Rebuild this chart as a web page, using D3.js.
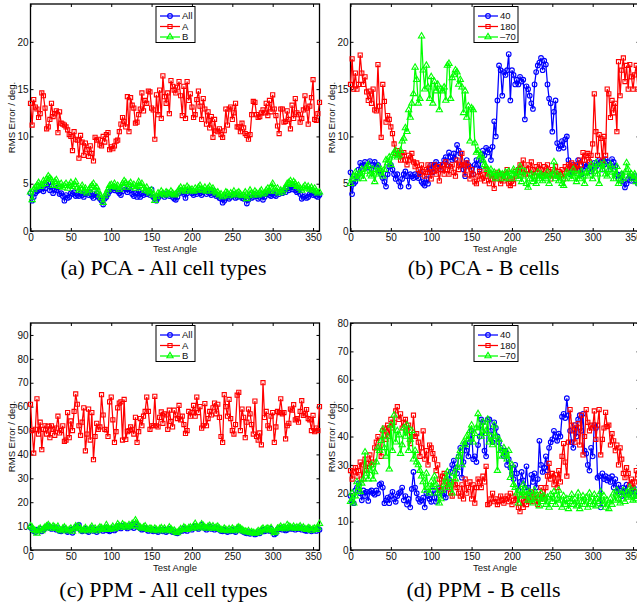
<!DOCTYPE html>
<html>
<head>
<meta charset="utf-8">
<script src="https://cdn.jsdelivr.net/npm/d3@7"></script>
<style>
	body { margin: 0; background: #fff; }
	svg { display: block; }
</style>
</head>
<body>
<div id="figure"></div>
<script>
//Test angles in degrees, one sample every 2 deg.
var testAngle = [0, 2, 4, 6, 8, 10, 12, 14, 16, 18, 20, 22, 24, 26, 28, 30, 32, 34, 36, 38,
	40, 42, 44, 46, 48, 50, 52, 54, 56, 58, 60, 62, 64, 66, 68, 70, 72, 74, 76, 78,
	80, 82, 84, 86, 88, 90, 92, 94, 96, 98, 100, 102, 104, 106, 108, 110, 112, 114, 116, 118,
	120, 122, 124, 126, 128, 130, 132, 134, 136, 138, 140, 142, 144, 146, 148, 150, 152, 154, 156, 158,
	160, 162, 164, 166, 168, 170, 172, 174, 176, 178, 180, 182, 184, 186, 188, 190, 192, 194, 196, 198,
	200, 202, 204, 206, 208, 210, 212, 214, 216, 218, 220, 222, 224, 226, 228, 230, 232, 234, 236, 238,
	240, 242, 244, 246, 248, 250, 252, 254, 256, 258, 260, 262, 264, 266, 268, 270, 272, 274, 276, 278,
	280, 282, 284, 286, 288, 290, 292, 294, 296, 298, 300, 302, 304, 306, 308, 310, 312, 314, 316, 318,
	320, 322, 324, 326, 328, 330, 332, 334, 336, 338, 340, 342, 344, 346, 348, 350, 352, 354, 356, 358];

//(a) PCA - All cell types
var pcaAllAll = [4.0, 3.2, 3.6, 4.0, 4.2, 4.3, 4.4, 4.6, 4.2, 4.5, 4.9, 5.1, 4.3, 4.7, 4.0, 4.4, 4.3, 4.6, 3.9, 4.0,
	3.7, 3.2, 3.8, 3.5, 3.6, 4.0, 3.9, 4.1, 3.7, 3.8, 3.7, 4.0, 3.8, 3.6, 3.9, 4.0, 3.8, 4.1, 3.7, 3.5,
	3.8, 4.0, 3.6, 3.4, 3.2, 2.8, 3.4, 3.6, 3.9, 4.2, 4.4, 4.6, 4.3, 4.5, 4.2, 4.0, 3.8, 4.2, 4.6, 4.4,
	4.1, 4.5, 4.3, 3.9, 3.7, 4.0, 3.6, 4.2, 3.6, 4.0, 3.8, 4.1, 3.9, 4.0, 3.8, 4.4, 3.6, 3.4, 3.2, 3.5,
	3.7, 3.8, 3.9, 3.6, 3.8, 4.0, 3.7, 3.9, 3.6, 3.4, 3.3, 3.6, 4.0, 4.3, 4.1, 3.9, 3.5, 4.0, 4.2, 4.3,
	4.0, 3.8, 4.1, 3.9, 4.2, 4.0, 3.8, 4.1, 4.3, 3.9, 4.2, 4.0, 3.8, 4.3, 3.9, 3.7, 3.8, 3.5, 3.4, 3.0,
	3.2, 3.5, 3.7, 3.4, 3.6, 3.8, 3.9, 3.5, 3.6, 3.8, 3.7, 3.5, 3.4, 3.6, 2.9, 3.3, 3.8, 3.5, 3.6, 3.9,
	3.7, 3.4, 3.6, 3.8, 3.3, 3.6, 3.9, 4.0, 3.8, 3.7, 4.0, 3.8, 3.7, 4.1, 3.9, 4.2, 4.0, 4.3, 4.1, 4.5,
	4.3, 4.6, 4.4, 4.7, 4.3, 4.1, 4.2, 3.9, 3.4, 3.6, 3.7, 3.5, 3.6, 3.9, 4.1, 3.8, 3.9, 3.7, 3.6, 3.8];
var pcaAllA = [13.5, 11.2, 13.9, 13.1, 12.9, 12.0, 12.4, 14.6, 14.3, 13.0, 10.8, 11.0, 11.8, 13.5, 12.1, 12.4, 12.7, 10.4, 12.6, 11.4,
	11.3, 11.2, 11.0, 10.7, 10.2, 10.0, 8.5, 10.5, 9.7, 9.6, 7.7, 10.1, 9.4, 8.0, 9.3, 8.6, 7.9, 9.0, 8.2, 7.4,
	9.9, 9.6, 9.7, 9.1, 9.0, 10.0, 9.4, 10.2, 10.4, 8.6, 8.9, 8.7, 9.0, 9.5, 9.6, 10.5, 11.3, 12.0, 11.6, 11.0,
	14.2, 10.5, 14.1, 13.3, 13.0, 11.4, 11.5, 12.3, 12.9, 14.6, 12.7, 13.8, 13.5, 14.8, 14.7, 13.0, 12.8, 9.7, 14.4, 12.3,
	14.9, 11.9, 16.4, 14.2, 13.5, 14.6, 12.4, 15.9, 15.3, 14.9, 14.6, 15.2, 15.8, 14.3, 12.2, 15.3, 11.9, 15.8, 13.8, 14.5,
	13.1, 12.0, 12.3, 13.9, 14.8, 13.2, 11.8, 14.0, 12.9, 11.3, 12.6, 10.9, 12.1, 9.9, 11.8, 10.6, 10.5, 10.8, 10.2, 9.9,
	10.6, 12.9, 11.2, 12.9, 13.1, 11.8, 12.5, 13.5, 11.0, 11.0, 10.5, 11.4, 10.9, 10.3, 10.1, 9.7, 10.2, 12.3, 13.7, 13.6,
	12.3, 12.0, 12.1, 12.5, 12.8, 12.5, 13.5, 12.2, 13.8, 12.6, 14.4, 12.9, 12.2, 11.1, 10.3, 12.9, 12.9, 11.5, 11.6, 12.7,
	11.8, 10.8, 13.3, 11.9, 14.0, 12.5, 12.3, 11.5, 11.9, 12.8, 14.3, 13.0, 11.3, 13.2, 14.1, 16.0, 11.8, 11.7, 12.4, 13.6];
var pcaAllB = [4.1, 3.3, 4.4, 4.6, 4.8, 5.1, 4.7, 4.9, 5.3, 5.0, 5.5, 5.8, 5.6, 5.4, 4.8, 5.2, 5.4, 4.9, 4.7, 5.0,
	4.6, 4.8, 5.0, 4.5, 4.8, 5.1, 4.7, 4.9, 5.2, 4.6, 4.3, 4.5, 4.8, 4.2, 4.5, 4.0, 4.3, 4.6, 4.8, 5.0,
	4.4, 4.6, 4.2, 3.8, 3.5, 3.0, 3.7, 4.0, 4.4, 4.8, 4.9, 4.7, 5.0, 4.6, 4.8, 4.4, 4.6, 5.0, 5.3, 5.1,
	4.6, 4.9, 5.1, 4.7, 4.9, 4.5, 4.7, 5.2, 4.8, 5.0, 4.5, 4.3, 4.6, 4.2, 4.0, 4.3, 3.8, 3.2, 3.6, 4.0,
	3.9, 4.2, 4.0, 3.8, 4.1, 4.0, 3.9, 4.2, 4.0, 3.8, 3.9, 4.1, 4.4, 4.6, 4.3, 4.5, 4.2, 4.7, 4.5, 4.3,
	4.4, 4.2, 4.5, 4.3, 4.6, 4.8, 4.4, 4.3, 4.6, 4.2, 4.5, 4.7, 4.3, 4.5, 4.2, 4.0, 4.1, 3.8, 3.9, 3.6,
	3.8, 4.1, 4.0, 3.7, 4.0, 3.9, 4.2, 3.8, 4.0, 4.1, 3.9, 3.7, 3.8, 4.1, 3.4, 3.7, 4.3, 4.0, 3.8, 4.2,
	4.0, 3.8, 4.1, 4.3, 3.9, 4.0, 4.3, 4.5, 4.2, 4.6, 5.0, 4.4, 4.2, 4.5, 4.0, 4.3, 4.1, 4.4, 4.6, 5.0,
	5.1, 5.3, 4.9, 5.2, 5.0, 4.7, 4.8, 4.5, 4.3, 4.6, 4.8, 4.5, 4.7, 4.4, 4.6, 4.3, 4.5, 4.2, 4.0, 4.1];

//(b) PCA - B cells
var pcaB40 = [6.2, 3.9, 5.0, 5.2, 5.7, 6.5, 7.2, 6.8, 7.0, 7.3, 6.7, 6.9, 7.4, 6.5, 7.0, 7.3, 6.8, 7.0, 6.4, 6.0,
	5.6, 5.2, 4.7, 6.0, 6.8, 7.0, 6.5, 6.0, 5.5, 6.0, 5.2, 4.7, 5.5, 6.0, 6.3, 5.8, 4.7, 6.0, 5.8, 5.6,
	6.0, 5.8, 5.6, 6.2, 5.2, 5.0, 4.8, 5.5, 5.0, 6.5, 7.0, 6.2, 7.0, 7.3, 6.8, 7.0, 6.5, 7.0, 7.5, 7.8,
	7.0, 8.3, 7.8, 7.5, 8.2, 7.6, 9.1, 8.5, 8.2, 7.0, 6.5, 5.8, 7.5, 7.0, 6.8, 6.5, 6.0, 7.0, 7.5, 7.0,
	6.5, 7.5, 8.5, 8.0, 8.8, 8.3, 8.6, 7.5, 8.9, 11.6, 10.0, 13.8, 17.5, 17.0, 14.3, 16.8, 16.5, 17.0, 18.7, 13.8,
	17.0, 16.5, 15.5, 16.0, 15.5, 16.3, 15.8, 16.0, 11.8, 15.3, 15.0, 14.3, 13.5, 12.9, 15.5, 16.8, 17.5, 17.8, 18.3, 17.0,
	18.0, 17.6, 15.5, 14.0, 13.5, 10.5, 12.6, 13.8, 9.3, 8.7, 9.0, 9.5, 8.8, 9.7, 10.0, 7.5, 6.0, 6.2, 7.0, 6.5,
	6.8, 7.5, 6.5, 6.0, 6.5, 7.0, 6.8, 7.0, 6.5, 6.3, 6.8, 7.2, 6.8, 7.0, 7.5, 7.3, 6.5, 7.0, 7.6, 7.3,
	7.0, 6.5, 7.6, 7.3, 6.8, 6.0, 5.5, 5.8, 6.0, 5.2, 4.6, 5.0, 5.5, 5.8, 5.3, 5.6, 5.8, 5.3, 5.0, 5.2];
var pcaB180 = [15.5, 18.2, 15.0, 16.7, 15.0, 15.5, 18.6, 16.7, 15.5, 16.3, 14.7, 13.8, 14.8, 13.5, 15.0, 12.8, 12.7, 17.6, 13.2, 9.9,
	15.5, 13.7, 11.5, 12.2, 11.8, 11.0, 10.3, 9.2, 8.2, 8.5, 8.1, 7.5, 8.0, 8.3, 7.5, 7.0, 8.0, 7.5, 8.2, 7.3,
	6.8, 7.2, 6.5, 6.0, 7.0, 6.3, 5.8, 6.5, 7.0, 6.2, 5.5, 6.3, 7.0, 6.0, 6.8, 5.3, 6.5, 7.0, 6.0, 7.3,
	6.5, 6.0, 6.8, 7.0, 6.2, 5.8, 7.5, 6.5, 7.0, 8.2, 7.0, 6.0, 7.2, 6.8, 5.5, 6.5, 6.0, 5.2, 5.0, 5.8,
	6.3, 5.5, 6.0, 5.3, 6.5, 5.8, 5.0, 6.0, 5.5, 4.5, 5.8, 6.2, 5.5, 5.0, 6.0, 5.3, 5.8, 6.5, 5.0, 4.8,
	5.5, 5.0, 6.3, 5.8, 6.5, 7.0, 6.2, 7.5, 6.0, 6.5, 7.0, 6.0, 7.3, 6.5, 5.8, 6.8, 6.2, 7.0, 6.5, 5.8,
	6.8, 6.0, 7.0, 6.3, 5.5, 6.5, 6.0, 6.8, 5.8, 6.3, 6.0, 6.5, 5.5, 6.8, 6.2, 7.0, 6.5, 7.2, 6.8, 6.3,
	7.0, 6.5, 7.5, 7.0, 8.3, 7.5, 8.0, 8.2, 7.3, 8.0, 9.2, 14.5, 10.5, 8.0, 10.2, 9.8, 7.5, 10.0, 8.0, 15.0,
	14.5, 12.0, 13.8, 12.5, 13.5, 10.5, 17.9, 14.3, 17.0, 18.3, 15.8, 17.5, 15.0, 17.6, 16.3, 15.0, 16.5, 17.5, 15.0, 16.2];
var pcaBm70 = [5.0, 5.5, 5.8, 6.2, 5.5, 6.0, 5.8, 6.5, 5.5, 6.3, 6.8, 7.0, 6.0, 5.8, 6.5, 5.2, 6.0, 6.8, 6.2, 6.5,
	5.8, 6.5, 7.5, 7.2, 7.8, 7.0, 8.0, 8.3, 8.5, 7.8, 8.0, 8.5, 9.5, 9.8, 10.9, 10.5, 12.8, 12.0, 13.5, 14.5,
	17.3, 16.0, 13.5, 14.0, 20.6, 17.0, 15.0, 17.5, 15.2, 14.0, 16.3, 13.5, 15.8, 14.8, 15.5, 12.8, 15.0, 14.8, 15.2, 13.8,
	17.5, 17.7, 14.0, 16.2, 16.5, 17.0, 16.8, 15.5, 16.0, 15.2, 12.5, 14.8, 12.0, 13.2, 9.5, 13.0, 12.8, 9.3, 8.3, 8.5,
	7.8, 8.0, 7.5, 7.0, 6.8, 6.5, 6.0, 6.5, 5.8, 6.2, 5.5, 6.0, 6.2, 5.8, 6.0, 5.5, 6.2, 5.8, 6.3, 5.5,
	6.0, 6.5, 5.8, 6.2, 5.5, 6.8, 5.2, 5.8, 6.3, 5.0, 4.6, 5.5, 6.0, 5.2, 5.8, 5.0, 6.2, 5.5, 6.0, 5.3,
	5.8, 5.5, 6.2, 5.0, 5.8, 6.0, 7.3, 5.5, 6.0, 5.3, 5.8, 5.0, 4.8, 5.5, 6.2, 5.8, 6.0, 5.5, 6.5, 5.8,
	5.2, 6.0, 5.5, 6.3, 5.8, 5.0, 6.2, 5.8, 6.5, 7.0, 5.5, 6.3, 7.2, 6.0, 5.0, 7.0, 6.5, 7.2, 6.0, 5.8,
	6.5, 7.0, 6.2, 5.5, 6.0, 6.8, 5.0, 5.3, 6.0, 5.5, 6.2, 7.2, 6.5, 5.8, 6.0, 5.5, 6.0, 5.2, 5.5, 5.0];

//(c) PPM - All cell types
var ppmAllAll = [9.5, 8.8, 8.0, 7.5, 8.5, 8.2, 8.8, 7.8, 8.5, 9.0, 9.5, 10.0, 9.2, 8.8, 9.5, 9.0, 8.5, 9.2, 8.0, 7.8,
	8.5, 9.0, 8.2, 7.5, 8.0, 8.5, 7.2, 8.8, 9.5, 9.8, 10.5, 8.5, 7.8, 8.2, 8.8, 8.0, 7.5, 8.5, 9.2, 8.0,
	8.5, 7.5, 8.2, 9.0, 8.8, 8.0, 8.5, 9.5, 8.2, 7.8, 8.5, 9.0, 8.2, 8.8, 10.0, 9.5, 9.0, 10.2, 9.8, 9.5,
	9.0, 10.0, 9.5, 10.5, 9.2, 11.0, 10.5, 9.5, 9.0, 8.5, 8.8, 9.2, 8.5, 8.0, 8.5, 8.2, 7.8, 8.5, 8.0, 7.5,
	8.2, 8.5, 7.8, 8.5, 7.5, 8.0, 8.8, 8.2, 7.5, 7.8, 7.2, 7.0, 7.5, 8.2, 8.0, 9.0, 8.5, 8.0, 8.8, 9.0,
	8.5, 9.5, 10.0, 9.2, 8.8, 9.5, 10.5, 9.8, 9.0, 8.5, 9.2, 9.8, 8.8, 9.5, 8.5, 9.0, 9.2, 8.5, 8.0, 7.8,
	8.5, 8.0, 7.5, 8.2, 7.8, 8.5, 8.0, 7.5, 8.8, 9.2, 8.5, 8.0, 7.5, 7.2, 7.0, 7.5, 6.8, 7.2, 7.0, 6.5,
	6.8, 7.5, 7.0, 8.0, 8.5, 7.8, 8.2, 8.5, 8.0, 8.8, 7.5, 6.5, 7.0, 8.5, 8.8, 9.2, 8.5, 9.0, 8.2, 8.5,
	9.5, 9.0, 8.8, 9.2, 8.5, 9.0, 8.8, 9.5, 8.5, 9.0, 8.2, 8.0, 8.8, 8.5, 7.8, 8.2, 8.5, 8.0, 8.8, 8.5];
var ppmAllA = [61.0, 50.0, 40.5, 50.5, 63.3, 48.5, 53.5, 42.0, 50.5, 52.0, 48.5, 51.8, 47.0, 52.0, 50.5, 48.0, 51.0, 56.0, 49.0, 50.0,
	52.0, 45.5, 46.0, 57.5, 47.0, 54.0, 50.0, 58.0, 65.3, 61.0, 52.0, 48.0, 53.5, 59.5, 41.5, 48.5, 59.0, 46.0, 57.5, 37.8,
	47.5, 53.0, 50.5, 51.5, 65.0, 56.5, 50.5, 50.3, 47.5, 62.0, 64.0, 54.5, 45.0, 49.5, 59.5, 61.5, 62.0, 46.0, 63.0, 46.3,
	49.5, 50.0, 51.5, 50.5, 48.5, 55.5, 45.0, 49.5, 55.0, 52.0, 56.0, 58.0, 64.0, 58.0, 50.5, 52.0, 52.0, 64.3, 52.0, 51.5,
	55.5, 57.8, 53.0, 57.0, 56.5, 50.5, 58.5, 53.8, 51.5, 58.5, 56.5, 55.0, 60.5, 54.5, 56.0, 52.5, 48.8, 50.0, 58.0, 56.0,
	57.5, 60.5, 56.0, 64.0, 57.5, 60.0, 51.0, 52.0, 61.3, 52.0, 55.0, 58.0, 56.5, 59.5, 61.5, 57.0, 61.0, 55.5, 47.5, 45.0,
	65.0, 60.0, 56.0, 63.0, 55.0, 50.0, 48.5, 52.5, 64.8, 66.0, 50.0, 59.0, 55.5, 47.0, 53.5, 59.0, 57.0, 52.5, 48.5, 62.3,
	47.5, 46.0, 49.0, 44.0, 70.0, 55.5, 58.0, 52.0, 51.0, 56.0, 57.5, 45.0, 51.5, 58.0, 57.5, 63.3, 57.0, 57.5, 46.5, 52.0,
	53.0, 59.0, 58.5, 60.8, 54.5, 55.0, 53.5, 58.0, 62.5, 56.3, 57.0, 58.8, 55.0, 54.5, 50.0, 56.3, 49.5, 51.0, 50.0, 60.0];
var ppmAllB = [10.0, 9.5, 8.5, 8.0, 7.0, 8.5, 9.0, 8.0, 8.8, 9.5, 10.0, 10.5, 9.8, 9.0, 10.0, 9.5, 9.0, 9.8, 8.5, 8.0,
	9.0, 9.5, 8.8, 8.0, 8.5, 9.0, 7.8, 9.0, 10.0, 9.5, 10.0, 8.8, 8.0, 8.5, 9.2, 8.5, 8.0, 9.0, 9.8, 8.5,
	9.0, 8.0, 8.8, 9.5, 9.2, 8.5, 9.0, 10.5, 9.0, 8.5, 9.0, 9.8, 8.8, 9.5, 10.8, 10.0, 9.5, 10.8, 10.2, 10.0,
	9.5, 10.5, 10.0, 11.0, 10.0, 12.5, 11.0, 10.0, 9.5, 9.0, 9.5, 10.0, 9.0, 8.5, 9.0, 8.8, 8.2, 9.0, 8.5, 8.0,
	8.8, 9.2, 8.5, 9.0, 8.0, 8.5, 9.5, 8.8, 8.0, 8.2, 7.5, 7.2, 8.0, 8.8, 8.5, 9.5, 9.0, 8.5, 9.2, 9.5,
	9.0, 10.0, 11.0, 9.8, 9.2, 10.0, 10.8, 10.2, 9.5, 9.0, 9.8, 10.2, 9.2, 10.0, 9.0, 9.5, 9.8, 9.0, 8.5, 8.2,
	9.0, 8.5, 8.0, 8.8, 8.2, 9.0, 8.5, 8.0, 9.2, 9.5, 9.0, 8.5, 8.0, 7.8, 7.5, 8.0, 7.2, 7.5, 7.2, 7.0,
	7.2, 8.0, 7.5, 8.5, 9.0, 8.2, 8.8, 9.0, 8.5, 9.2, 8.0, 7.2, 7.8, 9.0, 9.2, 9.8, 9.0, 9.5, 8.8, 10.5,
	10.0, 9.5, 9.2, 9.8, 9.0, 9.5, 9.2, 10.0, 9.0, 9.5, 8.8, 8.5, 9.2, 9.0, 8.2, 8.8, 9.0, 8.5, 9.5, 11.0];

//(d) PPM - B cells
var ppmB40 = [19.0, 17.0, 16.5, 21.0, 22.0, 23.5, 20.0, 17.5, 21.0, 19.0, 20.5, 17.3, 20.5, 21.0, 20.0, 19.5, 21.0, 20.0, 23.0, 23.5,
	22.0, 16.5, 17.5, 18.5, 16.5, 19.0, 20.5, 18.0, 17.0, 19.0, 20.0, 20.5, 22.0, 17.5, 19.0, 16.0, 18.0, 15.0, 21.5, 27.5,
	22.0, 20.0, 18.0, 17.0, 17.5, 18.5, 15.0, 20.0, 19.0, 18.0, 17.0, 21.0, 18.5, 17.0, 20.0, 22.0, 21.0, 19.5, 20.0, 18.5,
	22.0, 25.0, 27.5, 30.0, 31.5, 29.0, 27.0, 33.0, 36.0, 25.5, 31.0, 37.5, 35.0, 33.0, 38.0, 42.0, 32.0, 33.0, 31.0, 37.0,
	40.0, 46.0, 45.0, 35.0, 33.0, 46.0, 46.0, 42.0, 38.0, 45.0, 43.0, 40.0, 38.0, 36.0, 35.0, 33.0, 35.0, 30.0, 32.0, 29.0,
	27.0, 25.0, 30.0, 27.0, 21.0, 24.0, 27.5, 24.5, 22.0, 29.5, 22.0, 20.0, 26.5, 24.0, 27.0, 22.0, 25.0, 38.5, 30.0, 27.5,
	29.0, 33.0, 28.0, 36.0, 38.0, 39.0, 42.0, 40.0, 38.5, 41.0, 40.0, 47.0, 48.0, 46.5, 53.5, 47.5, 42.0, 38.0, 36.0, 44.0,
	40.0, 46.0, 47.5, 42.0, 48.0, 35.0, 34.0, 30.0, 28.0, 36.0, 33.0, 44.0, 43.0, 25.5, 26.0, 15.0, 27.0, 25.0, 26.0, 24.5,
	25.5, 24.0, 26.0, 22.0, 25.0, 20.5, 23.0, 21.0, 19.0, 22.0, 20.5, 23.0, 19.5, 20.0, 21.0, 22.0, 20.5, 19.0, 21.5, 20.0];
var ppmB180 = [28.0, 25.0, 27.5, 29.0, 26.0, 28.0, 31.0, 25.0, 30.0, 32.0, 28.0, 30.5, 33.5, 30.0, 31.0, 36.0, 38.0, 40.0, 35.0, 33.0,
	42.0, 43.0, 39.0, 44.0, 40.0, 46.0, 43.0, 45.0, 49.0, 50.5, 46.0, 48.0, 43.0, 45.0, 46.0, 42.0, 44.0, 37.5, 40.0, 47.5,
	40.0, 41.0, 38.0, 33.0, 36.0, 42.0, 32.0, 35.0, 30.0, 37.0, 36.0, 34.0, 32.0, 28.0, 30.0, 25.0, 21.0, 26.0, 27.0, 24.0,
	22.0, 23.0, 20.0, 19.0, 24.0, 23.0, 22.0, 20.0, 19.0, 23.0, 18.0, 25.0, 20.0, 22.0, 24.0, 18.0, 23.0, 16.5, 22.0, 25.0,
	24.0, 22.0, 26.0, 24.0, 29.5, 16.0, 16.5, 18.0, 20.0, 17.0, 18.0, 16.0, 17.0, 19.0, 17.5, 16.5, 18.0, 19.0, 17.0, 20.0,
	16.0, 17.5, 19.0, 18.0, 15.0, 13.5, 18.0, 15.0, 19.0, 16.0, 18.0, 17.0, 20.5, 18.0, 17.0, 19.5, 16.0, 18.0, 22.0, 20.5,
	18.0, 22.0, 26.0, 30.5, 25.0, 27.0, 23.0, 26.5, 22.0, 28.0, 24.0, 33.0, 37.5, 31.0, 26.0, 38.0, 49.5, 44.0, 42.0, 38.0,
	43.0, 44.5, 37.0, 47.5, 33.5, 40.0, 49.5, 45.0, 42.0, 44.0, 43.0, 49.0, 39.0, 44.0, 49.5, 33.5, 39.0, 43.0, 48.5, 43.5,
	44.0, 37.0, 41.0, 38.5, 35.0, 37.0, 30.0, 36.0, 32.0, 27.0, 25.5, 29.0, 27.0, 23.0, 25.0, 22.0, 24.0, 28.0, 26.5, 24.0];
var ppmBm70 = [17.0, 20.0, 16.5, 19.0, 24.0, 22.0, 20.5, 23.5, 25.0, 34.5, 27.0, 25.0, 28.0, 30.0, 25.0, 27.5, 31.0, 36.0, 35.0, 38.5,
	42.5, 36.0, 33.0, 40.0, 28.5, 44.0, 35.0, 47.5, 38.0, 42.0, 40.5, 34.0, 37.0, 43.0, 40.0, 44.0, 35.0, 39.0, 42.0, 32.0,
	35.0, 31.0, 30.0, 28.0, 26.0, 24.0, 21.0, 27.0, 22.0, 20.0, 24.0, 22.0, 26.0, 23.0, 20.0, 16.5, 18.0, 21.0, 23.0, 25.0,
	27.5, 22.0, 24.0, 20.0, 27.0, 25.0, 29.0, 33.0, 35.0, 30.0, 38.0, 37.0, 40.0, 39.0, 42.0, 44.0, 38.0, 41.0, 43.0, 48.0,
	43.0, 40.0, 45.0, 41.0, 42.0, 46.0, 38.0, 40.0, 37.0, 44.0, 40.0, 28.0, 39.0, 35.0, 33.0, 36.0, 34.0, 32.0, 35.0, 25.5,
	30.0, 23.0, 22.0, 20.0, 16.5, 21.0, 19.0, 23.0, 19.0, 21.0, 17.5, 20.5, 18.0, 16.5, 21.0, 19.0, 18.0, 15.5, 20.0, 17.0,
	19.0, 16.0, 18.5, 15.0, 19.5, 17.0, 20.5, 16.0, 18.0, 21.0, 17.5, 15.0, 19.0, 16.0, 18.0, 14.5, 17.0, 19.5, 16.0, 18.0,
	15.5, 20.0, 14.5, 17.0, 19.0, 16.0, 18.5, 15.0, 20.0, 17.0, 16.0, 19.5, 15.5, 18.0, 17.0, 20.5, 16.0, 19.0, 15.0, 17.5,
	14.5, 18.0, 16.0, 20.0, 17.5, 21.0, 18.0, 16.5, 19.5, 21.0, 17.0, 20.0, 18.5, 22.0, 19.0, 17.5, 21.0, 18.0, 20.0, 19.0];

//Tick labels and legend entries
var xTicks = [0, 50, 100, 150, 200, 250, 300, 350];
var yTicksPca = [0, 5, 10, 15, 20];
var yTicksPpmAll = [0, 10, 20, 30, 40, 50, 60, 70, 80, 90];
var yTicksPpmB = [0, 10, 20, 30, 40, 50, 60, 70, 80];
var legendCellTypes = ["All", "A", "B"];
var legendAngles = ["40", "180", "\u201370"];
var captions = ["(a) PCA - All cell types", "(b) PCA - B cells", "(c) PPM - All cell types", "(d) PPM - B cells"];

//Width and height
var w = 637;
var h = 612;
var plotW = 289;
var plotH = 227;
var colors = ["#0000ff", "#ff0000", "#00ff00"];
var markers = [d3.symbolCircle, d3.symbolSquare, d3.symbolTriangle];
var markerSizes = [17, 17, 17];

var svg = d3.select("#figure")
	.append("svg")
	.attr("width", w)
	.attr("height", h);

//One entry per sub-figure; capY is the caption baseline below the axes
var panels = [
	{ left: 30.5, top: 4, yMax: 24, yTicks: yTicksPca, series: [pcaAllAll, pcaAllA, pcaAllB], legend: legendCellTypes, caption: captions[0], capY: 44 },
	{ left: 350.5, top: 4, yMax: 24, yTicks: yTicksPca, series: [pcaB40, pcaB180, pcaBm70], legend: legendAngles, caption: captions[1], capY: 44 },
	{ left: 30.5, top: 323, yMax: 95, yTicks: yTicksPpmAll, series: [ppmAllAll, ppmAllA, ppmAllB], legend: legendCellTypes, caption: captions[2], capY: 47 },
	{ left: 350.5, top: 323, yMax: 80, yTicks: yTicksPpmB, series: [ppmB40, ppmB180, ppmBm70], legend: legendAngles, caption: captions[3], capY: 47 }
];

panels.forEach(function (p) {
	var g = svg.append("g")
		.attr("transform", "translate(" + p.left + "," + p.top + ")");

	var xScale = d3.scaleLinear()
		.domain([0, 358])
		.range([0, plotW]);

	var yScale = d3.scaleLinear()
		.domain([0, p.yMax])
		.range([plotH, 0]);

	//Axes, MATLAB style with ticks pointing inside
	var styleAxis = function (sel) {
		sel.select(".domain").remove();
		sel.selectAll("line").attr("stroke", "#000");
		sel.selectAll("text")
			.attr("fill", "#111")
			.attr("font-family", "'Liberation Sans', Arial, sans-serif")
			.attr("font-size", "10px");
	};

	g.append("g")
		.attr("transform", "translate(0," + plotH + ")")
		.call(d3.axisBottom(xScale).tickValues(xTicks).tickSize(-3).tickPadding(3))
		.call(styleAxis);
	g.append("g")
		.call(d3.axisTop(xScale).tickValues(xTicks).tickSize(-3).tickFormat(""))
		.call(styleAxis);
	g.append("g")
		.call(d3.axisLeft(yScale).tickValues(p.yTicks).tickSize(-3).tickPadding(2))
		.call(styleAxis);
	g.append("g")
		.attr("transform", "translate(" + plotW + ",0)")
		.call(d3.axisRight(yScale).tickValues(p.yTicks).tickSize(-3).tickFormat(""))
		.call(styleAxis);

	//Box
	g.append("rect")
		.attr("width", plotW)
		.attr("height", plotH)
		.attr("fill", "none")
		.attr("stroke", "#000")
		.attr("stroke-width", 1.3);

	//Lines and markers, drawn in legend order
	var line = d3.line()
		.x(function (d, i) { return xScale(testAngle[i]); })
		.y(function (d) { return yScale(d); });

	p.series.forEach(function (values, k) {
		var s = g.append("g");
		s.append("path")
			.datum(values)
			.attr("d", line)
			.attr("fill", "none")
			.attr("stroke", colors[k])
			.attr("stroke-width", 1.25);
		s.selectAll("path.m")
			.data(values)
			.enter()
			.append("path")
			.attr("class", "m")
			.attr("transform", function (d, i) {
				return "translate(" + xScale(testAngle[i]) + "," + yScale(d) + ")";
			})
			.attr("d", d3.symbol().type(markers[k]).size(markerSizes[k]))
			.attr("fill", "none")
			.attr("stroke", colors[k])
			.attr("stroke-width", 1.1);
	});

	//Legend, centred at the top of the axes
	var lg = g.append("g");
	var items = lg.selectAll("g")
		.data(p.legend)
		.enter()
		.append("g")
		.attr("transform", function (d, i) { return "translate(0," + (9.5 + i * 10.5) + ")"; });
	items.append("text")
		.attr("x", 26)
		.attr("y", 3.3)
		.attr("font-family", "'Liberation Sans', Arial, sans-serif")
		.attr("font-size", "9.5px")
		.attr("fill", "#111")
		.text(function (d) { return d; });
	var textW = d3.max(items.selectAll("text").nodes(), function (n) { return n.getComputedTextLength(); });
	var boxW = Math.round(26 + textW + 2);
	lg.insert("rect", ":first-child")
		.attr("width", boxW)
		.attr("height", 36)
		.attr("fill", "#fff")
		.attr("stroke", "#000")
		.attr("stroke-width", 1);
	items.append("line")
		.attr("x1", 4)
		.attr("x2", 24)
		.attr("stroke", function (d, i) { return colors[i]; })
		.attr("stroke-width", 1.25);
	items.append("path")
		.attr("transform", "translate(14,0)")
		.attr("d", function (d, i) { return d3.symbol().type(markers[i]).size(markerSizes[i])(); })
		.attr("fill", "none")
		.attr("stroke", function (d, i) { return colors[i]; })
		.attr("stroke-width", 1.1);
	lg.attr("transform", "translate(" + Math.round(plotW / 2 - boxW / 2) + ".5,2.5)");

	//Axis titles
	g.append("text")
		.attr("text-anchor", "middle")
		.attr("x", plotW / 2)
		.attr("y", plotH + 21)
		.attr("font-family", "'Liberation Sans', Arial, sans-serif")
		.attr("font-size", "9.5px")
		.attr("fill", "#111")
		.text("Test Angle");
	g.append("text")
		.attr("text-anchor", "middle")
		.attr("transform", "translate(-19," + (plotH / 2) + ")rotate(-90)")
		.attr("dy", "0.35em")
		.attr("font-family", "'Liberation Sans', Arial, sans-serif")
		.attr("font-size", "9.5px")
		.attr("fill", "#111")
		.text("RMS Error / deg.");

	//Sub-figure caption
	g.append("text")
		.attr("text-anchor", "middle")
		.attr("x", plotW / 2 - 11.5)
		.attr("y", plotH + p.capY)
		.attr("font-family", "'Liberation Serif', 'Times New Roman', serif")
		.attr("font-size", "22px")
		.attr("fill", "#000")
		.text(p.caption);
});
</script>
</body>
</html>
